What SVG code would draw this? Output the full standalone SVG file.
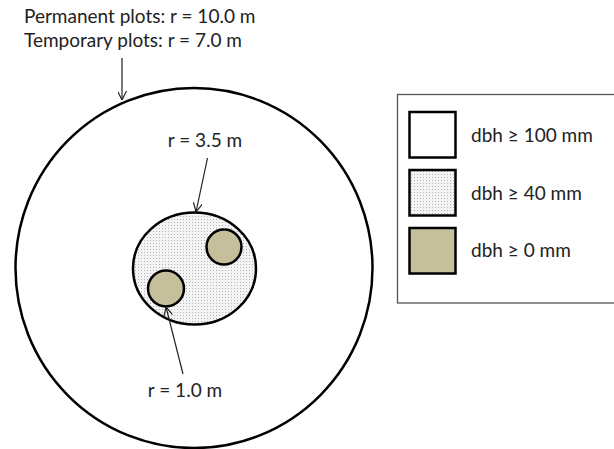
<svg xmlns="http://www.w3.org/2000/svg" width="614" height="449" viewBox="0 0 614 449">
<style>
  text { font-family: Lato, "Liberation Sans", sans-serif; font-size: 19px; fill: #222; }
  .ring { stroke: #000; stroke-width: 2.5; }
  .lead { stroke: #222; stroke-width: 1.2; fill: none; marker-end: url(#vhead); }
  .tree { fill: #c6bf9c; stroke: #000; stroke-width: 2.5; }
  .key { stroke: #000; stroke-width: 2.5; }
</style>
<defs>
  <pattern id="stipple" width="3" height="3" patternUnits="userSpaceOnUse">
    <rect width="3" height="3" fill="#f4f4f4"/>
    <rect x="0" y="0" width="1" height="1" fill="#b4b4b4"/>
  </pattern>
  <marker id="vhead" viewBox="0 0 10 10" refX="10" refY="5" markerWidth="9" markerHeight="9" markerUnits="userSpaceOnUse" orient="auto">
    <path d="M0,0 L10,5 L0,10" fill="none" stroke="#222" stroke-width="1.3"/>
  </marker>
</defs>
<rect width="614" height="449" fill="#fff"/>
<g id="outer-plot">
  <ellipse class="ring" cx="194" cy="268" rx="178.5" ry="180" fill="#fff"/>
</g>
<g id="mid-plot">
  <ellipse class="ring" cx="194.5" cy="268.5" rx="61.5" ry="56" fill="url(#stipple)"/>
</g>
<g id="tree-a">
  <circle class="tree" cx="224" cy="247" r="17.5"/>
</g>
<g id="tree-b">
  <circle class="tree" cx="166" cy="288.5" r="18"/>
</g>
<g id="labels">
  <text x="24" y="23">Permanent plots: r = 10.0 m</text>
  <text x="24" y="47">Temporary plots: r = 7.0 m</text>
  <text x="205" y="147" text-anchor="middle">r = 3.5 m</text>
  <text x="185" y="397" text-anchor="middle">r = 1.0 m</text>
</g>
<g id="connectors">
  <line class="lead" x1="122" y1="58" x2="122" y2="100"/>
  <line class="lead" x1="207.5" y1="158" x2="196" y2="212"/>
  <line class="lead" x1="183" y1="374" x2="166" y2="307"/>
</g>
<g id="legend">
  <rect x="397.5" y="94.5" width="222" height="208.5" fill="#fff" stroke="#555" stroke-width="1.3"/>
  <g id="key-100">
    <rect class="key" x="409.5" y="112" width="46" height="45.5" fill="#fff"/>
    <text x="471" y="142">dbh ≥ 100 mm</text>
  </g>
  <g id="key-40">
    <rect class="key" x="409.5" y="170" width="46" height="45.5" fill="url(#stipple)"/>
    <text x="471" y="200">dbh ≥ 40 mm</text>
  </g>
  <g id="key-0">
    <rect class="key" x="409.5" y="228" width="46" height="45.5" fill="#c6bf9c"/>
    <text x="471" y="257">dbh ≥ 0 mm</text>
  </g>
</g>
</svg>
